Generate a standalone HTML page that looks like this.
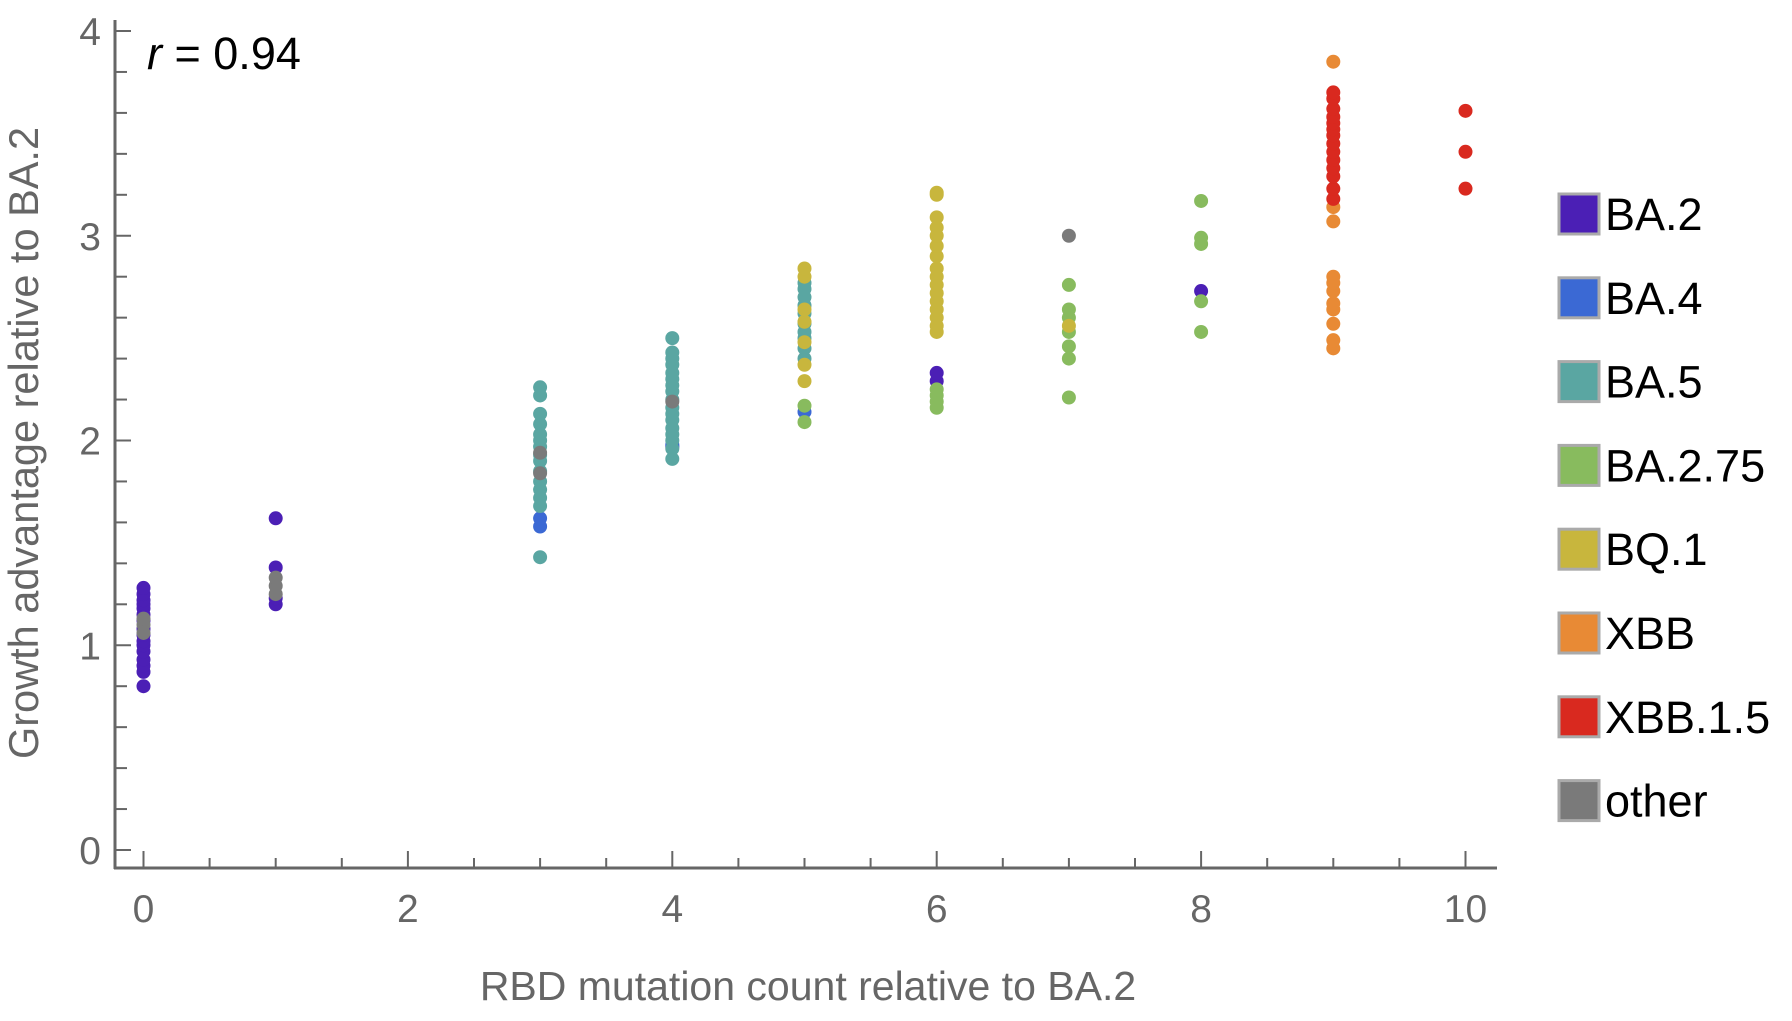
<!DOCTYPE html>
<html><head><meta charset="utf-8"><style>
html,body{margin:0;padding:0;background:#fff;}
svg{display:block;font-family:"Liberation Sans",sans-serif;}
</style></head><body>
<svg id="chart" width="1792" height="1021" viewBox="0 0 1792 1021">
<g id="axes"></g>
<g id="points"></g>
<g id="legend"></g>
<text x="147" y="69" font-size="45" fill="#000"><tspan font-style="italic">r</tspan> = 0.94</text>
<text x="808" y="1000" font-size="41" fill="#666" text-anchor="middle">RBD mutation count relative to BA.2</text>
<text transform="translate(38,443) rotate(-90)" font-size="41.5" fill="#666" text-anchor="middle">Growth advantage relative to BA.2</text>
</svg>
<script>
const seriesNames = ["BA.2","BA.4","BA.5","BA.2.75","BQ.1","XBB","XBB.1.5","other"];
const seriesColors = ["#4b1fb5","#3b69d4","#5aa6a2","#88bb5e","#c8b63d","#e88a35","#d9291f","#7a7a7a"];
const xTicks = [0,2,4,6,8,10];
const yTicks = [0,1,2,3,4];
const ba2X = [0,0,0,0,0,0,0,0,0,0,0,0,0,0,0,0,1,1,1,1,4,6,6,8];
const ba2Y = [0.8,0.87,0.9,0.93,0.97,1.0,1.02,1.05,1.08,1.12,1.15,1.18,1.2,1.22,1.25,1.28,1.2,1.23,1.38,1.62,1.97,2.29,2.33,2.73];
const ba4X = [3,3,5,4];
const ba4Y = [1.58,1.62,2.14,1.98];
const ba5X = [3,3,3,3,3,3,3,3,3,3,3,3,3,3,3,4,4,4,4,4,4,4,4,4,4,4,4,4,4,4,4,4,5,5,5,5,5,5,5,5,5,5];
const ba5Y = [1.43,1.68,1.72,1.76,1.8,1.85,1.9,1.93,1.97,2.0,2.03,2.08,2.13,2.22,2.26,1.91,1.96,2.0,2.03,2.06,2.1,2.13,2.16,2.2,2.24,2.27,2.3,2.33,2.37,2.4,2.43,2.5,2.4,2.45,2.5,2.53,2.57,2.62,2.66,2.7,2.74,2.77];
const ba275X = [5,5,6,6,6,6,7,7,7,7,7,7,7,8,8,8,8,8];
const ba275Y = [2.09,2.17,2.16,2.19,2.22,2.25,2.21,2.4,2.46,2.53,2.6,2.64,2.76,2.53,2.68,2.96,2.99,3.17];
const bq1X = [5,5,5,5,5,5,5,6,6,6,6,6,6,6,6,6,6,6,6,6,6,6,6,7];
const bq1Y = [2.29,2.37,2.48,2.58,2.64,2.8,2.84,2.53,2.56,2.6,2.64,2.68,2.72,2.76,2.8,2.84,2.9,2.95,3.0,3.04,3.09,3.2,3.21,2.56];
const xbbX = [9,9,9,9,9,9,9,9,9,9,9];
const xbbY = [2.45,2.49,2.57,2.64,2.67,2.73,2.77,2.8,3.07,3.14,3.85];
const xbb15X = [9,9,9,9,9,9,9,9,9,9,9,9,9,9,10,10,10];
const xbb15Y = [3.18,3.23,3.29,3.33,3.37,3.41,3.45,3.49,3.52,3.55,3.58,3.62,3.67,3.7,3.23,3.41,3.61];
const otherX = [0,0,0,1,1,1,3,3,4,7];
const otherY = [1.06,1.1,1.13,1.25,1.29,1.33,1.84,1.94,2.19,3.0];

const NS="http://www.w3.org/2000/svg";
const x0=143.5, xUnit=132.2, y0=850, yUnit=204.75;
const axisY=868;
function sx(v){return x0+v*xUnit;}
function sy(v){return y0-v*yUnit;}
function mk(tag,parent,attrs){const e=document.createElementNS(NS,tag);for(const k in attrs)e.setAttribute(k,attrs[k]);parent.appendChild(e);return e;}

const axes=document.getElementById('axes');
const axisCol="#666";
let l=mk('line',axes,{x1:115,y1:20,x2:115,y2:axisY+1,stroke:axisCol,'stroke-width':3});


l=mk('line',axes,{x1:114,y1:axisY,x2:1497,y2:axisY,stroke:axisCol,'stroke-width':3});


for(let i=0;i<=20;i++){
  const v=i*0.2, major=i%5===0;
  const t=mk('line',axes,{x1:115,y1:sy(v),x2:major?131:127,y2:sy(v),stroke:axisCol,'stroke-width':2});
  
  
}
for(let i=0;i<=20;i++){
  const v=i*0.5, major=i%4===0;
  const t=mk('line',axes,{x1:sx(v),y1:axisY,x2:sx(v),y2:major?axisY-17:axisY-10,stroke:axisCol,'stroke-width':2});
  
  
}
yTicks.forEach(v=>{
  const t=mk('text',axes,{x:101,y:sy(v)+14,'font-size':39,fill:axisCol,'text-anchor':'end'});
  t.textContent=v;
  
  
});
xTicks.forEach(v=>{
  const t=mk('text',axes,{x:sx(v),y:922,'font-size':39,fill:axisCol,'text-anchor':'middle'});
  t.textContent=v;
  
  
});

const seriesX=[ba2X,ba4X,ba5X,ba275X,bq1X,xbbX,xbb15X,otherX];
const seriesY=[ba2Y,ba4Y,ba5Y,ba275Y,bq1Y,xbbY,xbb15Y,otherY];
const pts=document.getElementById('points');
seriesNames.forEach((n,s)=>{
  const g=mk('g',pts,{});
  
  
  seriesX[s].forEach((xv,i)=>{
    const c=mk('circle',g,{cx:sx(xv),cy:sy(seriesY[s][i]),r:7,fill:seriesColors[s]});
    
    
  });
});

const leg=document.getElementById('legend');
seriesNames.forEach((n,i)=>{
  const cy=214+i*83.8;
  const g=mk('g',leg,{});
  
  
  mk('rect',g,{x:1559,y:cy-20,width:40,height:40,fill:seriesColors[i],stroke:'#aaa','stroke-width':3});
  const t=mk('text',g,{x:1605,y:cy+16,'font-size':45,fill:'#000'});
  t.textContent=n;
});
</script>
</body></html>
